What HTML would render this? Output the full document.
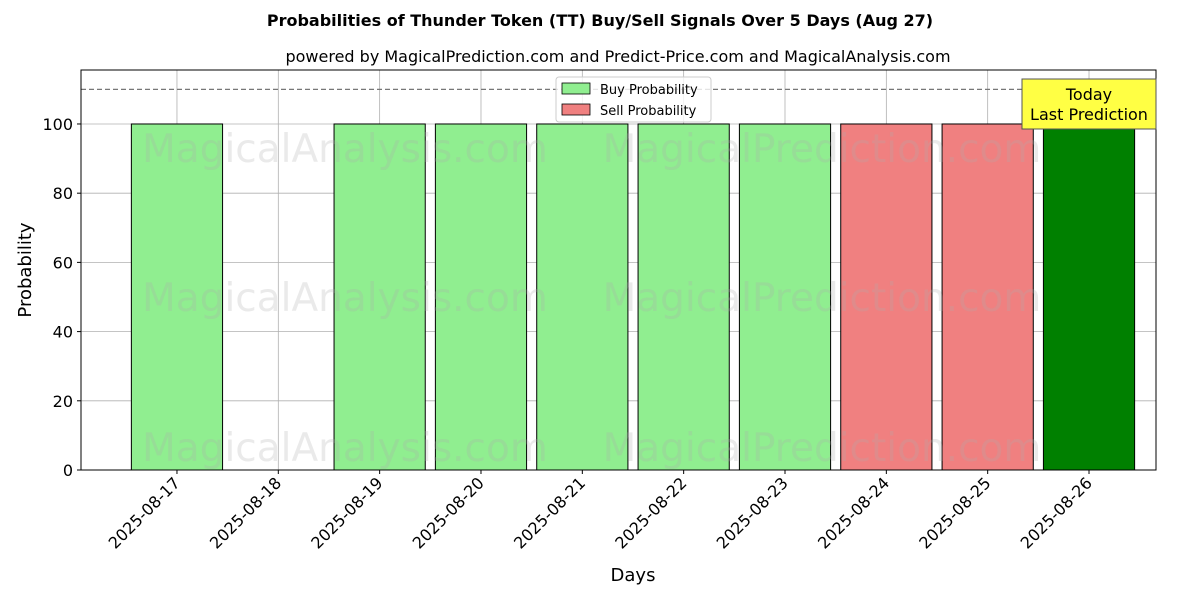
<!DOCTYPE html>
<html><head><meta charset="utf-8"><style>
body{margin:0;background:#fff;}
svg text{font-family:"DejaVu Sans","Liberation Sans",sans-serif;}
</style></head><body>
<svg id="chart" width="1200" height="600" viewBox="0 0 1200 600" xmlns="http://www.w3.org/2000/svg">
<rect width="1200" height="600" fill="#fff"/>
<text x="600" y="26" text-anchor="middle" font-size="16" font-weight="bold">Probabilities of Thunder Token (TT) Buy/Sell Signals Over 5 Days (Aug 27)</text>
<text x="618" y="62" text-anchor="middle" font-size="16">powered by MagicalPrediction.com and Predict-Price.com and MagicalAnalysis.com</text>
<g id="grid"></g>
<g id="bars"></g>
<g id="wm" fill="#aaa" fill-opacity="0.25" font-size="39">
<text x="345" y="162" text-anchor="middle">MagicalAnalysis.com</text>
<text x="822" y="162" text-anchor="middle">MagicalPrediction.com</text>
<text x="345" y="311" text-anchor="middle">MagicalAnalysis.com</text>
<text x="822" y="311" text-anchor="middle">MagicalPrediction.com</text>
<text x="345" y="461" text-anchor="middle">MagicalAnalysis.com</text>
<text x="822" y="461" text-anchor="middle">MagicalPrediction.com</text>
</g>
<line x1="81" x2="1156" y1="89.4" y2="89.4" stroke="#777" stroke-dasharray="5,3" stroke-width="1.2"/>
<rect x="81" y="70" width="1075" height="400" fill="none" stroke="#000" stroke-width="1"/>
<g id="ticks"></g>
<text transform="translate(31,270) rotate(-90)" text-anchor="middle" font-size="18">Probability</text>
<text x="633" y="581" text-anchor="middle" font-size="18">Days</text>
<g>
<rect x="556" y="77" width="155" height="45" fill="#fff" fill-opacity="0.8" stroke="#ccc" rx="3"/>
<rect x="562" y="83" width="28" height="11" fill="#90ee90" stroke="#000" stroke-width="0.8"/>
<text x="600" y="94" font-size="13">Buy Probability</text>
<rect x="562" y="104" width="28" height="11" fill="#f08080" stroke="#000" stroke-width="0.8"/>
<text x="600" y="115" font-size="13">Sell Probability</text>
</g>
<g>
<rect x="1022" y="79" width="134" height="50" fill="#ffff44" stroke="#555"/>
<text x="1089" y="100" text-anchor="middle" font-size="16">Today</text>
<text x="1089" y="120" text-anchor="middle" font-size="16">Last Prediction</text>
</g>
</svg>
<script>
const categories=["2025-08-17","2025-08-18","2025-08-19","2025-08-20","2025-08-21","2025-08-22","2025-08-23","2025-08-24","2025-08-25","2025-08-26"];
const buyValues=[100,0,100,100,100,100,100,0,0,100];
const sellValues=[0,0,0,0,0,0,0,100,100,0];
const todayIndex=9;
const yTicks=[0,20,40,60,80,100];
const NS="http://www.w3.org/2000/svg";
const X0=81,X1=1156,Y0=470,Y1=70,xmin=-0.947,xmax=9.661,ymin=0,ymax=115.6;
const xs=i=>X0+(i-xmin)/(xmax-xmin)*(X1-X0);
const ys=v=>Y0-(v-ymin)/(ymax-ymin)*(Y0-Y1);
function mk(t,a,p){const e=document.createElementNS(NS,t);for(const k in a)e.setAttribute(k,a[k]);p.appendChild(e);return e;}
const grid=document.getElementById('grid'),bars=document.getElementById('bars'),ticks=document.getElementById('ticks');
yTicks.forEach(v=>{
 const l=mk('line',{x1:X0,x2:X1,y1:ys(v),y2:ys(v),stroke:'#b0b0b0','stroke-width':0.8},grid);
 
 
 mk('line',{x1:X0-4,x2:X0,y1:ys(v),y2:ys(v),stroke:'#000'},ticks);
 const t=mk('text',{x:X0-8,y:ys(v)+6,'text-anchor':'end','font-size':16},ticks);
 t.textContent=v;
 
 
});
const bw=(xs(1)-xs(0))*0.9;
categories.forEach((c,i)=>{
 const x=xs(i);
 const l=mk('line',{x1:x,x2:x,y1:Y1,y2:Y0,stroke:'#b0b0b0','stroke-width':0.8},grid);
 
 
 mk('line',{x1:x,x2:x,y1:Y0,y2:Y0+4,stroke:'#000'},ticks);
 const t=mk('text',{transform:`translate(${x+4},${Y0+14}) rotate(-45)`,'text-anchor':'end','font-size':16},ticks);
 t.textContent=c;
 
 
 if(buyValues[i]>0){
  const r=mk('rect',{x:x-bw/2,y:ys(buyValues[i]),width:bw,height:ys(0)-ys(buyValues[i]),fill:i===todayIndex?'#008000':'#90ee90',stroke:'#000','stroke-width':1},bars);
  
  
 }
 if(sellValues[i]>0){
  const r=mk('rect',{x:x-bw/2,y:ys(sellValues[i]),width:bw,height:ys(0)-ys(sellValues[i]),fill:'#f08080',stroke:'#000','stroke-width':1},bars);
  
  
 }
});
</script>
</body></html>
